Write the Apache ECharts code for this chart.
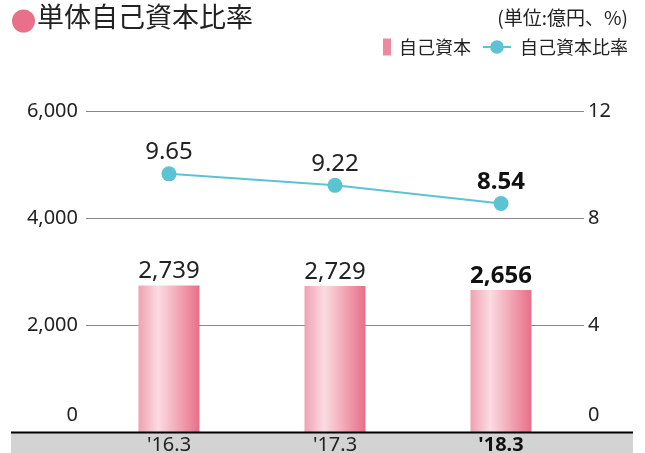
<!DOCTYPE html>
<html><head><meta charset="utf-8">
<script src="https://cdn.jsdelivr.net/npm/echarts@6/dist/echarts.min.js"></script>
<style>html,body{margin:0;padding:0;background:#fff}#c{width:645px;height:453px}</style>
</head><body><div id="c"></div>
<script>
const categories = ["'16.3", "'17.3", "'18.3"];
const capital = [2739, 2729, 2656];
const ratio = [9.65, 9.22, 8.54];
const leftTicks = {min: 0, max: 6000, interval: 2000};
const rightTicks = {min: 0, max: 12, interval: 4};

const FONT = '"Noto Sans", "Noto Sans CJK JP", sans-serif';
const JFONT = '"Noto Sans CJK JP", sans-serif';
const chart = echarts.init(document.getElementById('c'));
const barGrad = new echarts.graphic.LinearGradient(0, 0, 1, 0, [
  {offset: 0, color: '#efa0b0'},
  {offset: 0.32, color: '#fbdce1'},
  {offset: 1, color: '#e86f88'}
]);
const fmtNum = v => v.toLocaleString('en-US');
chart.setOption({
  animation: false,
  textStyle: {fontFamily: FONT},
  grid: {left: 86, right: 61, top: 111, bottom: 21, containLabel: false, outerBoundsMode: 'none'},
  graphic: [
    {type: 'circle', shape: {cx: 23.5, cy: 21, r: 11.5}, style: {fill: '#e8708a'}, z: 10},
    {type: 'text', left: 37, top: 3, style: {text: '単体自己資本比率', font: '27px ' + JFONT, fill: '#222'}},
    {type: 'text', right: 17, top: 8, style: {text: '(単位:億円、%)', font: '19px ' + JFONT, fill: '#222'}},
    {type: 'rect', shape: {x: 11, y: 433, width: 622, height: 20}, style: {fill: '#d3d3d3'}, z: -1},
    {type: 'line', shape: {x1: 11, y1: 432.5, x2: 633, y2: 432.5}, style: {stroke: '#000', lineWidth: 2}, z: 100}
  ],
  legend: [
    {data: [{name: '自己資本', icon: 'rect', itemStyle: {color: '#ee8a9d'}}], left: 383, top: 38, padding: 0,
     itemWidth: 8, itemHeight: 17, itemGap: 0,
     textStyle: {fontSize: 18, color: '#222', fontFamily: JFONT, padding: [0, 0, 0, 3]}},
    {data: ['自己資本比率'], left: 482, top: 38, padding: 0, itemWidth: 28, itemHeight: 17,
     textStyle: {fontSize: 18, color: '#222', fontFamily: JFONT, padding: [0, 0, 0, 4]}}
  ],
  xAxis: {
    type: 'category', data: categories,
    axisLine: {show: false}, axisTick: {show: false},
    axisLabel: {
      margin: 3, fontSize: 20, color: '#222', fontFamily: FONT,
      formatter: (v, i) => i === categories.length - 1 ? '{b|' + v + '}' : v,
      rich: {b: {fontSize: 20, fontWeight: 'bold', color: '#111', fontFamily: FONT}}
    }
  },
  yAxis: [
    {type: 'value', min: leftTicks.min, max: leftTicks.max, interval: leftTicks.interval,
     axisLine: {show: false}, axisTick: {show: false},
     splitLine: {lineStyle: {color: '#888', width: 1}},
     axisLabel: {margin: 8, fontSize: 20, color: '#222', fontFamily: FONT,
       formatter: v => v === 0 ? '{z|0}' : fmtNum(v),
       rich: {z: {fontSize: 20, color: '#222', padding: [0, 0, 34, 0], fontFamily: FONT}}}},
    {type: 'value', min: rightTicks.min, max: rightTicks.max, interval: rightTicks.interval,
     axisLine: {show: false}, axisTick: {show: false}, splitLine: {show: false},
     axisLabel: {margin: 4, fontSize: 20, color: '#222', fontFamily: FONT,
       formatter: v => v === 0 ? '{z|0}' : String(v),
       rich: {z: {fontSize: 20, color: '#222', padding: [0, 0, 34, 0], fontFamily: FONT}}}}
  ],
  series: [
    {name: '自己資本', type: 'bar', yAxisIndex: 0, barWidth: 61,
     itemStyle: {color: barGrad},
     data: capital.map((v, i) => ({value: v, label: i === capital.length - 1 ? {fontWeight: 'bold', color: '#111'} : {}})),
     label: {show: true, position: 'top', distance: 2, fontSize: 24, color: '#222', fontFamily: FONT,
       formatter: p => fmtNum(p.value)}},
    {name: '自己資本比率', type: 'line', yAxisIndex: 1, symbol: 'circle', symbolSize: 15,
     lineStyle: {color: '#5cc3d3', width: 2}, itemStyle: {color: '#5cc3d3'},
     data: ratio.map((v, i) => ({value: v, label: i === ratio.length - 1 ? {fontWeight: 'bold', color: '#111'} : {}})),
     label: {show: true, position: 'top', distance: 2, fontSize: 24, color: '#222', fontFamily: FONT,
       formatter: p => p.value.toFixed(2)}, z: 5}
  ]
});
</script></body></html>
